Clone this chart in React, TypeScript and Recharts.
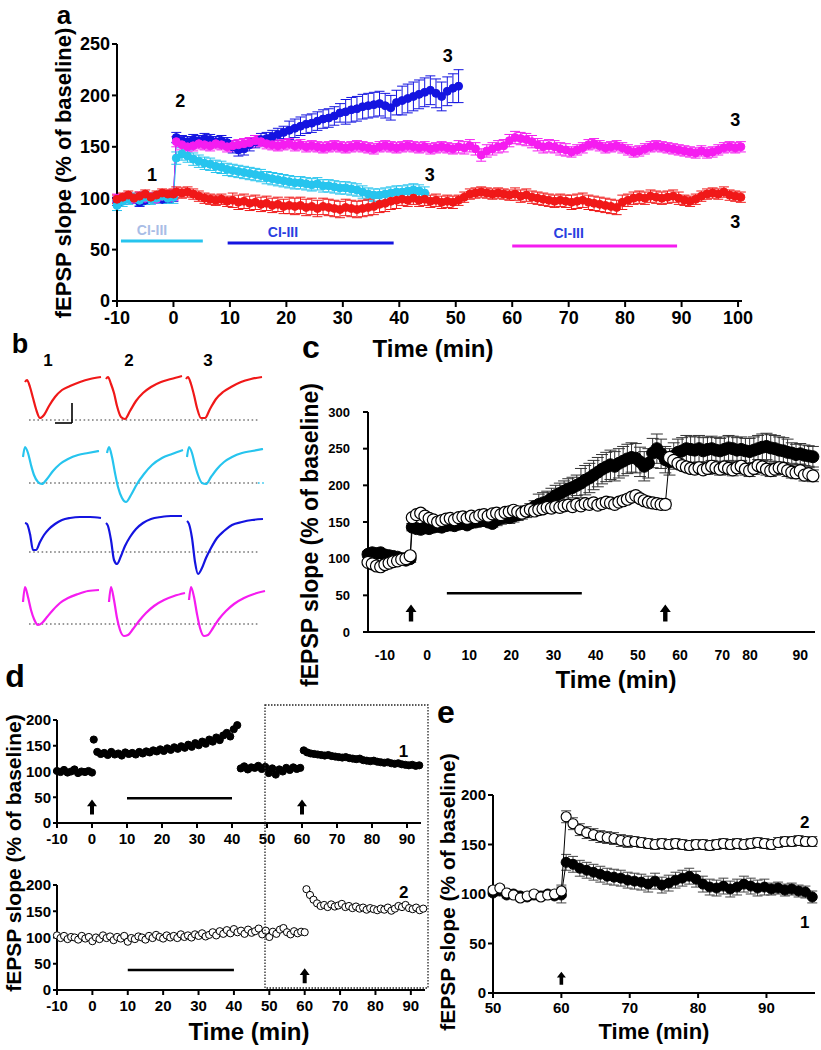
import React from 'react';
import { ComposedChart, Line, XAxis, YAxis, ErrorBar, ReferenceLine, ReferenceDot } from 'recharts';

const FONT = '"Liberation Sans", Arial, Helvetica, sans-serif';
const RED = '#f01818';
const CYAN = '#26c4ee';
const BLUE = '#1414e0';
const MAGENTA = '#f51cf0';

// ---------- panel a (baseline -10..0, then every minute from 0.5) ----------
const aRedBase = [99, 101, 103, 100, 102, 104, 101, 103, 105, 104, 104];
const aRedPost = [106, 105, 106, 104, 102, 100, 99, 98, 99, 97, 98, 96, 97, 95, 96, 94, 95, 93, 94, 92, 93,
  92, 93, 91, 92, 90, 92, 91, 90, 89, 91, 90, 89, 90, 91, 92, 94, 95, 97, 98, 99, 98, 100, 98, 99,
  97, 98, 96, 97, 96, 98, 101, 104, 105, 106, 105, 104, 105, 104, 103, 104, 102, 103, 101, 100, 99, 98, 97, 98,
  97, 96, 97, 98, 96, 95, 94, 93, 92, 91, 96, 98, 100, 101, 100, 102, 101, 100, 101, 102, 100, 98, 97, 99,
  102, 104, 105, 104, 106, 103, 102, 101];
const aRedSem = [4, 5, 7, 8, 8, 6, 5, 6, 7, 6, 5, 5];

const aMagBase = [100, 98, 101, 99, 102, 100, 101, 99, 102, 101, 103];
const aMagPost = [155, 152, 150, 151, 153, 152, 151, 153, 152, 150, 151, 152, 153, 154, 156, 155, 153, 152,
  151, 152, 153, 151, 152, 150, 151, 150, 149, 150, 151, 150, 149, 150, 151, 150, 149, 148,
  150, 151, 150, 149, 150, 151, 150, 149, 150, 148, 149, 150, 149, 148, 150, 149, 151, 148,
  142, 146, 148, 150, 151, 156, 159, 158, 157, 155, 152, 150, 151, 150, 148, 147, 145, 147,
  149, 152, 153, 151, 149, 150, 151, 149, 147, 145, 146, 148, 150, 151, 150, 149, 148, 147,
  146, 145, 144, 146, 144, 145, 147, 149, 150, 149, 150];
const aMagSem = [4, 5, 5, 5, 5, 5, 6, 6, 5, 5, 5, 5];

const aBlueBase = [97, 98, 100, 99, 96, 98, 100, 101, 99, 100, 102];
const aBluePost = [159, 156, 155, 157, 156, 158, 157, 155, 156, 154, 150, 147, 148, 152, 155, 157, 158, 160,
  162, 164, 166, 168, 170, 172, 173, 175, 177, 178, 180, 183, 184, 186, 187, 189, 190, 191,
  192, 190, 188, 193, 195, 197, 199, 201, 203, 205, 202, 199, 204, 207, 209];
const aBlueSem = [4, 5, 6, 9, 12, 14, 16];

const aCyanBase = [93, 97, 99, 100, 98, 101, 99, 100, 102, 100, 101];
const aCyanPost = [139, 143, 141, 138, 136, 134, 133, 131, 130, 128, 127, 126, 125, 124, 123, 122, 120, 119,
  118, 117, 116, 115, 115, 114, 113, 114, 112, 112, 111, 110, 110, 109, 108, 106, 104, 103,
  103, 104, 105, 106, 106, 107, 108, 107, 105];
const aCyanSem = [5, 6, 6, 6, 6, 6];

const aXTicks = [-10, 0, 10, 20, 30, 40, 50, 60, 70, 80, 90, 100];
const aYTicks = [0, 50, 100, 150, 200, 250];

// ---------- panel b (example traces, sample times within each sweep) ----------
const bTime = [0, 2, 5, 8, 11, 15, 19, 24, 30, 37, 45, 55, 65, 76];
const bRed = [
  [38, 40, 33, 22, 11, 2, 5, 14, 23, 30, 34, 38, 41, 43],
  [41, 43, 36, 27, 14, 3, 1, 9, 19, 27, 33, 38, 41, 44],
  [41, 43, 36, 25, 12, 2, 2, 11, 21, 28, 33, 38, 41, 43],
];
const bCyan = [
  [26, 36, 30, 18, 8, 1, -1, 4, 12, 19, 24, 28, 30, 32],
  [30, 36, 26, 10, -4, -15, -19, -12, -1, 9, 18, 25, 29, 33],
  [26, 36, 30, 18, 8, 0, -1, 6, 14, 21, 26, 30, 32, 34],
];
const bBlue = [
  [29, 28, 18, 2, 2, 10, 17, 23, 28, 32, 34, 35, 35, 34],
  [29, 26, 12, -8, -12, -4, 6, 15, 23, 29, 33, 35, 36, 36],
  [31, 28, 14, -10, -22, -16, -6, 4, 14, 21, 27, 30, 32, 33],
];
const bMag = [
  [22, 37, 27, 14, 5, -1, 1, 7, 14, 21, 26, 30, 33, 34],
  [22, 37, 24, 6, -6, -12, -11, -5, 3, 11, 18, 24, 28, 31],
  [24, 37, 27, 10, -4, -12, -11, -4, 5, 13, 20, 26, 30, 33],
];
const bRows = [
  { color: RED, base: 240, starts: [25, 106, 186], traces: bRed },
  { color: CYAN, base: 177, starts: [23, 107, 187], traces: bCyan },
  { color: BLUE, base: 108, starts: [25, 106, 187], traces: bBlue },
  { color: MAGENTA, base: 36, starts: [23, 109, 189], traces: bMag },
];
const bSweepLabels = ['1', '2', '3'];
const bSweepAt = [48, 129, 208];

// ---------- panel c ----------
const cFilledBase = [106, 108, 107, 108, 105, 104, 103, 102, 100, 98, 100];
const cFilledPost = [143, 141, 140, 142, 141, 143, 144, 143, 145, 146, 145, 147, 148, 146, 149, 150, 151, 152,
  150, 148, 153, 155, 157, 156, 158, 160, 162, 164, 167, 171, 174, 176, 178, 182, 186, 189,
  192, 195, 197, 200, 203, 207, 210, 214, 218, 222, 225, 228, 226, 230, 233, 236, 238, 237,
  232, 226, 230, 244, 250, 243, 235, 232, 240, 245, 247, 250, 249, 248, 250, 247, 249, 250,
  248, 247, 249, 251, 250, 248, 249, 247, 246, 248, 250, 252, 253, 251, 250, 248, 247, 245,
  244, 242, 243, 241, 240, 239];
const cFilledSem = [4, 5, 5, 8, 14, 20, 20, 18, 17, 18, 14, 14];

const cOpenBase = [95, 93, 90, 89, 92, 94, 96, 97, 99, 100, 104];
const cOpenPost1 = [156, 160, 162, 158, 155, 153, 150, 152, 154, 155, 153, 156, 157, 155, 158, 156, 159, 160,
  158, 161, 162, 160, 163, 164, 166, 164, 162, 165, 167, 165, 167, 168, 170, 169, 171, 170,
  172, 173, 171, 174, 172, 175, 174, 176, 173, 175, 177, 176, 174, 177, 179, 181, 184, 186,
  182, 179, 177, 176, 175, 174, 174];
const cOpenPost2 = [238, 234, 230, 227, 225, 223, 222, 224, 221, 223, 226, 224, 222, 225, 223, 221, 224, 226,
  222, 220, 223, 227, 225, 222, 220, 222, 224, 223, 220, 218, 217, 220, 214, 216, 213];
const cOpenSem = [3, 3, 3, 4, 4, 4, 5, 6, 8, 8, 8, 8];

const cTicks = [-14, -4, 6, 16, 26, 36, 46, 56, 66, 76, 86];
const cLabelAt = [-10, 0, 10, 20, 30, 40, 50, 60, 70, 76.6, 88.5];
const cLabels = ['-10', '0', '10', '20', '30', '40', '50', '60', '70', '80', '90'];
const cYTicks = [0, 50, 100, 150, 200, 250, 300];

// ---------- panel d ----------
const d1Base = [101, 99, 103, 98, 100, 104, 97, 100, 99, 101, 98];
const d1Drug = [162, 138, 134, 136, 132, 138, 133, 135, 131, 137, 134, 136, 133, 138, 135, 139, 137, 141, 139,
  143, 140, 145, 142, 147, 144, 149, 146, 152, 148, 155, 151, 158, 154, 162, 158, 166, 161, 170,
  175, 168, 182, 190];
const d1Wash = [106, 110, 104, 108, 107, 111, 105, 109, 97, 106, 94, 104, 100, 107, 103, 108, 105, 107];
const d1Ltp = [141, 137, 135, 134, 133, 132, 131, 132, 130, 129, 128, 127, 128, 126, 125, 124, 125, 122, 121,
  120, 121, 119, 118, 117, 118, 116, 115, 116, 114, 113, 112, 113, 111, 112];
const d2Base = [104, 99, 103, 97, 101, 100, 96, 103, 98, 101, 93, 100, 97, 104, 99, 102, 95, 101, 98, 103,
  92, 99, 97, 102, 100, 96, 103, 99, 105, 101, 98, 104, 100, 103, 99, 106, 101, 104, 100, 106,
  103, 108, 102, 105, 110, 104, 112, 107, 114, 108, 116, 110, 113, 107, 115, 109, 112, 117, 106, 113,
  101, 111, 107, 115, 118, 110, 106, 112, 108, 111, 110];
const d2Ltp = [192, 181, 172, 165, 160, 162, 158, 163, 159, 161, 164, 158, 160, 156, 159, 155, 157, 153, 156,
  154, 152, 155, 153, 157, 151, 155, 160, 158, 162, 156, 154, 157, 152, 155];
const dXTicks = [-10, 0, 10, 20, 30, 40, 50, 60, 70, 80, 90];
const dYTicks = [0, 50, 100, 150, 200];

// ---------- panel e ----------
const eFilledBase = [101, 103, 99, 100, 98, 97, 99, 98, 100, 98, 99];
const eFilledPost = [132, 130, 126, 124, 122, 120, 118, 117, 116, 114, 113, 112, 110, 113, 109, 111, 114, 116,
  118, 115, 110, 107, 106, 108, 105, 107, 110, 108, 106, 107, 105, 106, 104, 105, 103, 102, 97];
const eFilledSem = [3, 8, 8, 8, 6];
const eOpenBase = [104, 106, 101, 99, 96, 98, 100, 97, 99, 100, 103];
const eOpenPost = [178, 171, 165, 162, 160, 158, 157, 156, 154, 153, 153, 152, 151, 150, 151, 150, 151, 150,
  149, 150, 150, 149, 150, 151, 150, 151, 150, 151, 152, 151, 150, 152, 153, 153, 154, 153, 153];
const eOpenSem = [3, 6, 5, 5, 5];
const eXTicks = [50, 60, 70, 80, 90];
const eYTicks = [0, 50, 100, 150, 200];

// ---------- helpers ----------
const pts = (start: number, vals: number[], sem?: number[], semStart = 0) =>
  vals.map((v, i) => {
    const t = start + i;
    return { t, v, e: sem ? sem[Math.floor((t - semStart) / 10)] : 0 };
  });

const aRed = [...pts(-10, aRedBase, aRedSem, -10), ...pts(0.5, aRedPost, aRedSem, -10)];
const aMag = [...pts(-10, aMagBase, aMagSem, -10), ...pts(0.5, aMagPost, aMagSem, -10)];
const aBlue = [...pts(-10, aBlueBase, aBlueSem, -10), ...pts(0.5, aBluePost, aBlueSem, -10)];
const aCyan = [...pts(-10, aCyanBase, aCyanSem, -10), ...pts(0.5, aCyanPost, aCyanSem, -10)];

const cFilled = [...pts(-14, cFilledBase, cFilledSem, -14), ...pts(-3.5, cFilledPost, cFilledSem, -14)];
const cOpen = [
  ...pts(-14, cOpenBase, cOpenSem, -14),
  ...pts(-3.5, cOpenPost1, cOpenSem, -14),
  ...pts(57.5, cOpenPost2, cOpenSem, -14),
];

const d1 = [...pts(-10, d1Base), ...pts(0.5, d1Drug), ...pts(42.5, d1Wash), ...pts(60.5, d1Ltp)];
const d2 = [...pts(-10, d2Base), ...pts(60.5, d2Ltp)];

const eFilled = [...pts(50, eFilledBase, eFilledSem, 50), ...pts(60.7, eFilledPost, eFilledSem, 50)];
const eOpen = [...pts(50, eOpenBase, eOpenSem, 50), ...pts(60.7, eOpenPost, eOpenSem, 50)];

const axisStyle = { stroke: '#000', strokeWidth: 2 };
const tickFont = (size: number) => ({ fill: '#000', fontSize: size, fontWeight: 700, fontFamily: FONT });

const UpArrow = (h: number, w: number) => (p: any) => {
  const { cx, cy } = p;
  const top = cy - h / 2;
  const hh = h * 0.45;
  const hw = w / 2;
  const sw = w * 0.2;
  const bottom = cy + h / 2;
  return (
    <path
      d={`M${cx},${top} L${cx + hw},${top + hh} L${cx + sw},${top + hh} L${cx + sw},${bottom} L${cx - sw},${bottom} L${cx - sw},${top + hh} L${cx - hw},${top + hh} Z`}
      fill="#000"
    />
  );
};

const note = (key: string, x: number, y: number, text: string, size: number, color = '#000') => (
  <ReferenceDot
    key={key}
    x={x}
    y={y}
    r={0}
    fill="none"
    stroke="none"
    label={{ value: text, position: 'center', fill: color, fontSize: size, fontWeight: 700, fontFamily: FONT }}
  />
);

const Box = ({ left, top, children }: { left: number; top: number; children: React.ReactNode }) => (
  <div style={{ position: 'absolute', left, top }}>{children}</div>
);

const VLabel = ({ x, y, size, text }: { x: number; y: number; size: number; text: string }) => (
  <text transform={`translate(${x},${y}) rotate(-90)`} textAnchor="middle" dy="0.35em" fontSize={size} fontWeight={700}>
    {text}
  </text>
);

function PanelA() {
  const series = [
    { data: aBlue, color: BLUE },
    { data: aMag, color: MAGENTA },
    { data: aCyan, color: CYAN },
    { data: aRed, color: RED },
  ];
  return (
    <ComposedChart width={760} height={365} margin={{ top: 44, right: 18, bottom: 34, left: 57 }}>
      <XAxis type="number" dataKey="t" domain={[-10, 100.7]} ticks={aXTicks} interval={0} height={30}
        axisLine={axisStyle} tickLine={axisStyle} tickSize={6} tickMargin={4} tick={tickFont(18)} />
      <YAxis type="number" domain={[0, 250]} ticks={aYTicks} interval={0} width={60}
        axisLine={axisStyle} tickLine={axisStyle} tickSize={5} tickMargin={2} tick={tickFont(18)} />
      {series.map((s, i) => (
        <Line key={i} data={s.data} dataKey="v" stroke={s.color} strokeWidth={1} isAnimationActive={false}
          dot={{ r: 4, fill: s.color, stroke: s.color, strokeWidth: 1 }} activeDot={false}>
          <ErrorBar dataKey="e" width={5} stroke={s.color} strokeWidth={1} direction="y" />
        </Line>
      ))}
      <ReferenceLine segment={[{ x: -9.3, y: 58.4 }, { x: 5.2, y: 58.4 }]} stroke={CYAN} strokeWidth={3} />
      <ReferenceLine segment={[{ x: 9.6, y: 56.4 }, { x: 39, y: 56.4 }]} stroke={BLUE} strokeWidth={3} />
      <ReferenceLine segment={[{ x: 60, y: 53.5 }, { x: 89.2, y: 53.5 }]} stroke={MAGENTA} strokeWidth={3} />
      {note('c1', -3.8, 69, 'CI-III', 14, '#a9bde6')}
      {note('c2', 19.4, 67, 'CI-III', 14, '#2a40e0')}
      {note('c3', 70, 66, 'CI-III', 14, '#2a40e0')}
      {note('n1', -3.8, 122.6, '1', 18)}
      {note('n2', 1.2, 194.6, '2', 18)}
      {note('n3b', 48.6, 239, '3', 18)}
      {note('n3m', 99.5, 176, '3', 18)}
      {note('n3c', 45.4, 122.6, '3', 18)}
      {note('n3r', 99.5, 77, '3', 18)}
    </ComposedChart>
  );
}

function PanelB() {
  return (
    <ComposedChart width={280} height={320} margin={{ top: 0, right: 0, bottom: 0, left: 0 }}>
      <XAxis type="number" dataKey="t" domain={[0, 280]} hide />
      <YAxis type="number" domain={[0, 320]} hide />
      {bRows.map((row, r) => (
        <ReferenceLine key={`bl${r}`} segment={[{ x: 29, y: row.base }, { x: 258, y: row.base }]}
          stroke="#7a7a7a" strokeWidth={1.6} strokeDasharray="1.6 2.6" />
      ))}
      <ReferenceLine segment={[{ x: 258, y: 177 }, { x: 265, y: 177 }]} stroke={CYAN} strokeWidth={1.6} strokeDasharray="1.6 2.6" />
      {bRows.map((row, r) =>
        row.traces.map((tr, c) => (
          <Line key={`tr${r}${c}`} type="monotone" data={tr.map((a, i) => ({ t: row.starts[c] + bTime[i], v: row.base + a }))}
            dataKey="v" stroke={row.color} strokeWidth={2.2} dot={false} activeDot={false} isAnimationActive={false} />
        ))
      )}
      <ReferenceLine segment={[{ x: 55, y: 237 }, { x: 72, y: 237 }]} stroke="#000" strokeWidth={1.6} />
      <ReferenceLine segment={[{ x: 72, y: 237 }, { x: 72, y: 257 }]} stroke="#000" strokeWidth={1.6} />
      {bSweepLabels.map((s, i) => note(`bs${i}`, bSweepAt[i], 300, s, 17))}
    </ComposedChart>
  );
}

function PanelC() {
  return (
    <ComposedChart width={530} height={300} margin={{ top: 22, right: 5, bottom: 28, left: 38 }}>
      <XAxis type="number" dataKey="t" domain={[-14, 92]} ticks={cTicks} interval={0} tick={false} height={5}
        axisLine={axisStyle} tickLine={axisStyle} tickSize={5} />
      <XAxis xAxisId="lab" type="number" dataKey="t" domain={[-14, 92]} allowDataOverflow ticks={cLabelAt} interval={0}
        tickFormatter={(v: number) => cLabels[cLabelAt.indexOf(v)]} axisLine={false} tickLine={false}
        tickSize={0} tickMargin={13} height={25} tick={tickFont(14)} />
      <YAxis type="number" domain={[0, 300]} ticks={cYTicks} interval={0} width={40}
        axisLine={axisStyle} tickLine={axisStyle} tickSize={5} tickMargin={13} tick={tickFont(13)} />
      <Line data={cFilled} dataKey="v" stroke="#000" strokeWidth={1} isAnimationActive={false} activeDot={false}
        dot={{ r: 6, fill: '#000', stroke: '#000', strokeWidth: 1 }}>
        <ErrorBar dataKey="e" width={6} stroke="#333" strokeWidth={1} direction="y" />
      </Line>
      <Line data={cOpen} dataKey="v" stroke="#000" strokeWidth={1} isAnimationActive={false} activeDot={false}
        dot={{ r: 6, fill: '#fff', stroke: '#000', strokeWidth: 1.2 }}>
        <ErrorBar dataKey="e" width={6} stroke="#333" strokeWidth={1} direction="y" />
      </Line>
      <ReferenceLine segment={[{ x: 4.7, y: 53 }, { x: 36.7, y: 53 }]} stroke="#000" strokeWidth={2.5} />
      <ReferenceDot x={-3.8} y={26} r={1} shape={UpArrow(17, 11)} />
      <ReferenceDot x={56.5} y={26} r={1} shape={UpArrow(17, 11)} />
    </ComposedChart>
  );
}

function PanelD1() {
  return (
    <ComposedChart width={440} height={150} margin={{ top: 20, right: 19, bottom: 2, left: 22 }}>
      <XAxis type="number" dataKey="t" domain={[-10, 94]} ticks={dXTicks} interval={0} height={25}
        axisLine={axisStyle} tickLine={axisStyle} tickSize={5} tickMargin={5} tick={tickFont(15)} />
      <YAxis type="number" domain={[0, 200]} ticks={dYTicks} interval={0} width={35}
        axisLine={axisStyle} tickLine={axisStyle} tickSize={4} tickMargin={2} tick={tickFont(15)} />
      <Line data={d1} dataKey="v" stroke="none" isAnimationActive={false} activeDot={false}
        dot={{ r: 3.6, fill: '#000', stroke: '#000', strokeWidth: 1 }} />
      <ReferenceLine segment={[{ x: 10, y: 48 }, { x: 40, y: 48 }]} stroke="#000" strokeWidth={2.5} />
      <ReferenceDot x={0} y={31} r={1} shape={UpArrow(15, 10)} />
      <ReferenceDot x={60} y={31} r={1} shape={UpArrow(15, 10)} />
      {note('d1n', 89, 139, '1', 17)}
    </ComposedChart>
  );
}

function PanelD2() {
  return (
    <ComposedChart width={440} height={175} margin={{ top: 20, right: 15, bottom: 25, left: 22 }}>
      <XAxis type="number" dataKey="t" domain={[-10, 94]} ticks={dXTicks} interval={0} height={25}
        axisLine={axisStyle} tickLine={axisStyle} tickSize={5} tickMargin={5} tick={tickFont(15)} />
      <YAxis type="number" domain={[0, 200]} ticks={dYTicks} interval={0} width={35}
        axisLine={axisStyle} tickLine={axisStyle} tickSize={4} tickMargin={2} tick={tickFont(15)} />
      <Line data={d2} dataKey="v" stroke="none" isAnimationActive={false} activeDot={false}
        dot={{ r: 3.6, fill: '#fff', stroke: '#000', strokeWidth: 1 }} />
      <ReferenceLine segment={[{ x: 10, y: 38 }, { x: 40, y: 38 }]} stroke="#000" strokeWidth={2.5} />
      <ReferenceDot x={60} y={27} r={1} shape={UpArrow(15, 10)} />
      {note('d2n', 88, 187, '2', 17)}
    </ComposedChart>
  );
}

function PanelE() {
  return (
    <ComposedChart width={381} height={250} margin={{ top: 15, right: 6, bottom: 7, left: 13 }}>
      <XAxis type="number" dataKey="t" domain={[50, 97.1]} ticks={eXTicks} interval={0} height={30}
        axisLine={axisStyle} tickLine={axisStyle} tickSize={5} tickMargin={4} tick={tickFont(15)} />
      <YAxis type="number" domain={[0, 200]} ticks={eYTicks} interval={0} width={40}
        axisLine={axisStyle} tickLine={axisStyle} tickSize={5} tickMargin={2} tick={tickFont(15)} />
      <Line data={eFilled} dataKey="v" stroke="#000" strokeWidth={1} isAnimationActive={false} activeDot={false}
        dot={{ r: 5, fill: '#000', stroke: '#000', strokeWidth: 1 }}>
        <ErrorBar dataKey="e" width={5} stroke="#444" strokeWidth={1} direction="y" />
      </Line>
      <Line data={eOpen} dataKey="v" stroke="#000" strokeWidth={1} isAnimationActive={false} activeDot={false}
        dot={{ r: 5, fill: '#fff', stroke: '#000', strokeWidth: 1.1 }}>
        <ErrorBar dataKey="e" width={5} stroke="#444" strokeWidth={1} direction="y" />
      </Line>
      <ReferenceDot x={60} y={15} r={1} shape={UpArrow(13, 9)} />
      {note('e2', 95.6, 172.7, '2', 17)}
      {note('e1', 95.6, 71.7, '1', 17)}
    </ComposedChart>
  );
}

export default function App() {
  return (
    <div style={{ position: 'absolute', left: 0, top: 0, width: 821, height: 1050, background: '#fff', fontFamily: FONT }}>
      <Box left={0} top={0}><PanelA /></Box>
      <Box left={0} top={340}><PanelB /></Box>
      <Box left={290} top={390}><PanelC /></Box>
      <Box left={0} top={700}><PanelD1 /></Box>
      <Box left={0} top={865}><PanelD2 /></Box>
      <Box left={440} top={780}><PanelE /></Box>
      <svg width={821} height={1050} style={{ position: 'absolute', left: 0, top: 0, pointerEvents: 'none', fontFamily: FONT }}>
        <g fill="#000" fontWeight={700} textAnchor="middle">
          <text x={64} y={24} fontSize={26}>a</text>
          <text x={20} y={353} fontSize={27}>b</text>
          <text x={311} y={358} fontSize={32}>c</text>
          <text x={15} y={687} fontSize={32}>d</text>
          <text x={446} y={723} fontSize={32}>e</text>
          <text x={433} y={357} fontSize={24}>Time (min)</text>
          <text x={616} y={688} fontSize={24}>Time (min)</text>
          <text x={249} y={1040} fontSize={24}>Time (min)</text>
          <text x={654} y={1039} fontSize={22}>Time (min)</text>
        </g>
        <g fill="#000">
          <VLabel x={63} y={173} size={22} text="fEPSP slope (% of baseline)" />
          <VLabel x={310} y={535} size={23} text="fEPSP slope (% of baseline)" />
          <VLabel x={14} y={853} size={21} text="fEPSP slope (% of baseline)" />
          <VLabel x={448} y={892} size={21} text="fEPSP slope (% of baseline)" />
        </g>
        <rect x={265} y={705} width={163} height={283} fill="none" stroke="#222" strokeWidth={1.3} strokeDasharray="1.5 1.5" />
      </svg>
    </div>
  );
}
